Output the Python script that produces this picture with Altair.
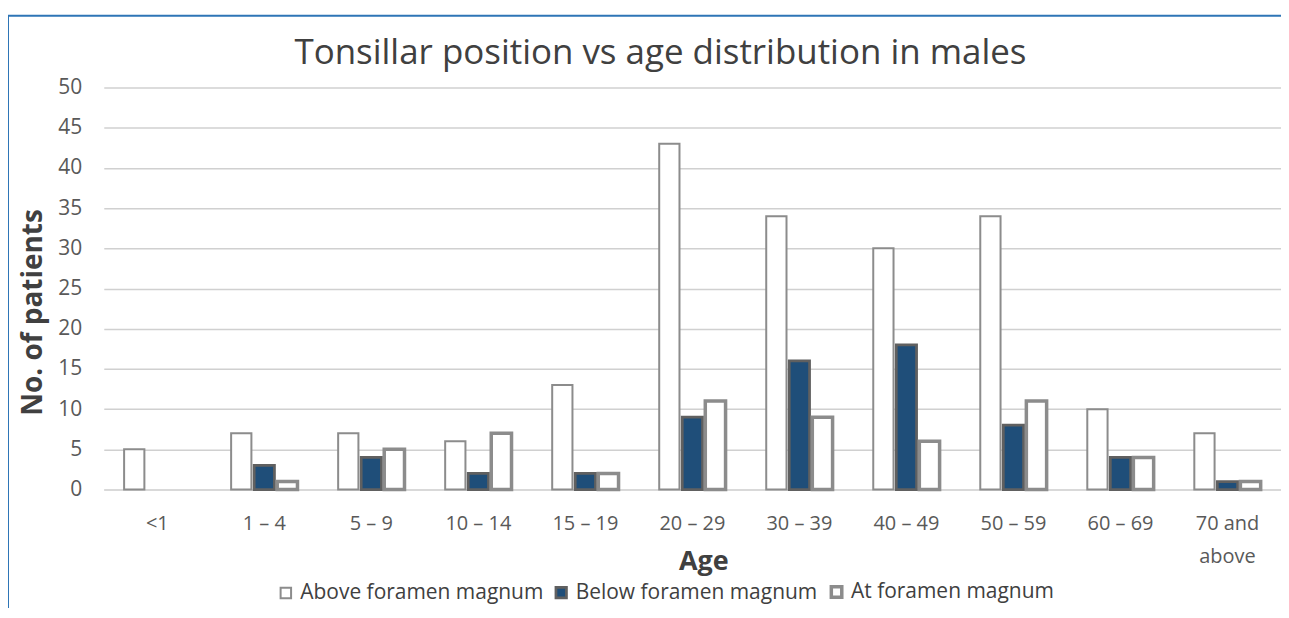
import altair as alt
import pandas as pd

ages = ["<1", "1 – 4", "5 – 9", "10 – 14", "15 – 19", "20 – 29", "30 – 39",
        "40 – 49", "50 – 59", "60 – 69", "70 and above"]
above = [5, 7, 7, 6, 13, 43, 34, 30, 34, 10, 7]
below = [0, 3, 4, 2, 2, 9, 16, 18, 8, 4, 1]
at_fm = [0, 1, 5, 7, 2, 11, 9, 6, 11, 4, 1]
series = ["Above foramen magnum", "Below foramen magnum", "At foramen magnum"]

rows = []
for i, a in enumerate(ages):
    for s, vals in zip(series, [above, below, at_fm]):
        if vals[i] > 0:
            rows.append({"Age": a, "Series": s, "Patients": vals[i]})
df = pd.DataFrame(rows)

FONT = "Open Sans"

bars = alt.Chart(df).mark_bar().encode(
    x=alt.X("Age:N", sort=ages, title="Age",
            scale=alt.Scale(paddingInner=0.38, paddingOuter=0.19),
            axis=alt.Axis(labelAngle=0, labelFontSize=20, labelColor="#595959",
                          labelFont=FONT, labelPadding=34, ticks=False,
                          domainColor="#d9d9d9", domainWidth=1.5,
                          titleFontSize=27, titleFont=FONT, titleFontWeight="bold",
                          titleColor="#404040", titlePadding=-18, titleX=601,
                          labelBaseline="middle",
                          labelExpr="datum.label == '70 and above' ? ['70 and', 'above'] : datum.label",
                          labelLineHeight=33)),
    xOffset=alt.XOffset("Series:N", sort=series, scale=alt.Scale(paddingInner=0.12)),
    y=alt.Y("Patients:Q", title="No. of patients",
            scale=alt.Scale(domain=[0, 50]),
            axis=alt.Axis(values=list(range(0, 51, 5)), labelFontSize=21,
                          labelColor="#595959", labelFont=FONT, ticks=False,
                          domain=False, gridColor="#d0d0d0", gridWidth=1.5,
                          labelPadding=22, titleFontSize=28, titleFont=FONT,
                          titleFontWeight="bold", titleColor="#404040",
                          titlePadding=10, titleY=225)),
    fill=alt.Fill("Series:N", sort=series,
                  scale=alt.Scale(domain=series, range=["#ffffff", "#1f4e79", "#ffffff"]),
                  legend=alt.Legend(orient="none", direction="horizontal",
                                    legendX=172, legendY=495, title=None,
                                    symbolType="square", symbolSize=110,
                                    symbolStrokeColor="#7f7f7f", symbolStrokeWidth=1,
                                    labelFontSize=21, labelFont=FONT, labelLimit=0,
                                    labelColor="#404040", columnPadding=6,
                                    labelOffset=4)),
    stroke=alt.Stroke("Series:N", sort=series,
                      scale=alt.Scale(domain=series, range=["#8c8c8c", "#606060", "#8c8c8c"]),
                      legend=None),
    strokeWidth=alt.StrokeWidth("Series:N", sort=series,
                                scale=alt.Scale(domain=series, range=[2, 3.5, 2]),
                                legend=None),
)

border_top = alt.Chart(pd.DataFrame({"k": [0]})).mark_rule(color="#2e75b6", strokeWidth=2).encode(
    x=alt.value(-96), x2=alt.value(1300), y=alt.value(-72))
border_left = alt.Chart(pd.DataFrame({"k": [0]})).mark_rule(color="#2e75b6", strokeWidth=2).encode(
    x=alt.value(-96), y=alt.value(-72), y2=alt.value(560))

chart = alt.layer(bars, border_top, border_left).properties(
    width=1180, height=403,
    title=alt.TitleParams("Tonsillar position vs age distribution in males",
                          fontSize=35, font=FONT, fontWeight="normal",
                          color="#404040", offset=-56, anchor="middle", frame="group",
                          dx=-32),
    autosize=alt.AutoSizeParams(type="none"),
    padding={"left": 96, "top": 79, "right": 0, "bottom": 118},
).configure_view(stroke=None)

chart.save("out.html", embed_options={"renderer": "svg", "actions": False})
